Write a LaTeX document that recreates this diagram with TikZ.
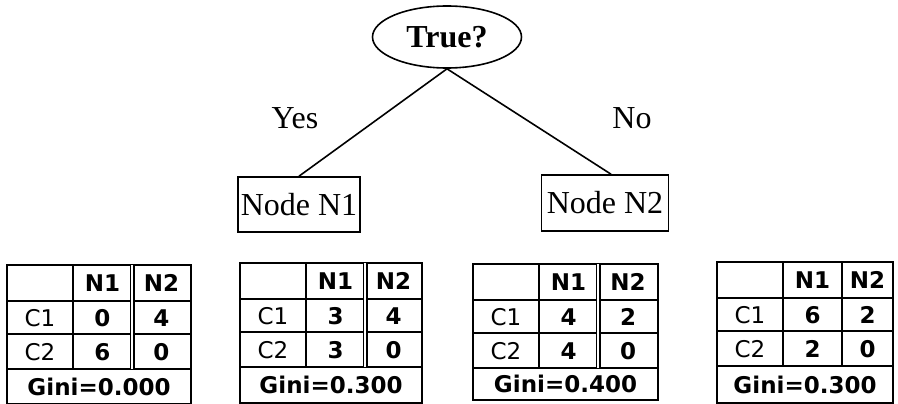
\documentclass[tikz,border=0pt]{standalone}
\usepackage{fontspec}
\setmainfont{Liberation Serif}
\newfontfamily\tabfont{DejaVu Sans}
\usetikzlibrary{shapes.geometric}
\tikzset{
  treeline/.style={line width=1.6pt},
  treebox/.style={draw, line width=1.6pt, inner sep=0pt, font=\fontsize{32}{32}\selectfont},
  lbl/.style={font=\fontsize{32}{32}\selectfont},
  tabline/.style={line width=2.4pt},
  sepd/.style={double, double distance=2.2pt, line width=1.4pt},
  seps/.style={line width=2.6pt},
  cellr/.style={font=\tabfont\fontsize{23}{23}\selectfont, inner sep=0pt, text height=17pt, text depth=0pt},
  cellb/.style={font=\tabfont\bfseries\fontsize{23}{23}\selectfont, inner sep=0pt, text height=17pt, text depth=0pt},
}
% #1 name, #2 x, #3 y, #4 width of last column, #5-#8 values, #9 gini
\newcommand\gtab[9]{%
\begin{scope}[shift={(#2,#3)}]
  \draw[tabline] (0,0) rectangle ({125+#4},{104+\gh});
  \draw[tabline] (0,36) -- ({125+#4},36);
  \draw[tabline] (0,69) -- ({125+#4},69);
  \draw[tabline] (0,104) -- ({125+#4},104);
  \draw[tabline] (66,0) -- (66,104);
  \draw[\sep] (125,0) -- (125,104);
  \node[cellb] (#1-h1) at (95.5,18) {N1};
  \node[cellb] (#1-h2) at ({125+#4/2},18) {N2};
  \node[cellr] (#1-c1) at (33,52.5) {C1};
  \node[cellb] (#1-a) at (95.5,52.5) {#5};
  \node[cellb] (#1-b) at ({125+#4/2},52.5) {#6};
  \node[cellr] (#1-c2) at (33,86.5) {C2};
  \node[cellb] (#1-c) at (95.5,86.5) {#7};
  \node[cellb] (#1-d) at ({125+#4/2},86.5) {#8};
  \node[cellb] (#1-g) at ({(125+#4)/2},{104+\gh/2}) {Gini=#9};
\end{scope}}
\begin{document}
\begin{tikzpicture}[x=1pt,y=-1pt]
\useasboundingbox (0,0) rectangle (898,404);
\node[ellipse, draw, line width=1.6pt, minimum width=149pt, minimum height=62pt, inner sep=0pt,
      font=\bfseries\fontsize{32}{32}\selectfont] (root) at (447,37) {True?};
\node[treebox, minimum width=122pt, minimum height=55pt] (n1) at (299,204.5) {Node N1};
\node[treebox, minimum width=127pt, minimum height=56pt] (n2) at (605,203) {Node N2};
\draw[treeline] (root.south) -- (n1.north);
\draw[treeline] (root.south) -- ([xshift=6pt]n2.north);
\node[lbl] (yes) at (295,118) {Yes};
\node[lbl] (no) at (632,118) {No};
\def\gh{35}\def\sep{sepd}
\gtab{t1}{7}{265}{59}{0}{4}{6}{0}{0.000}
\def\gh{36}\def\sep{sepd}
\gtab{t2}{240}{263}{57}{3}{4}{3}{0}{0.300}
\def\gh{32}\def\sep{sepd}
\gtab{t3}{473}{264}{60}{4}{2}{4}{0}{0.400}
\def\gh{37}\def\sep{seps}
\gtab{t4}{717}{262}{51}{6}{2}{2}{0}{0.300}
\end{tikzpicture}
\end{document}
